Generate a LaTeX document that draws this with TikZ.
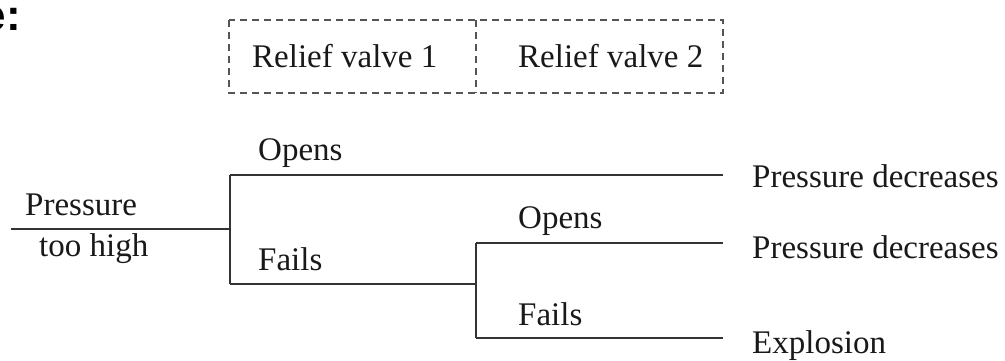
\documentclass[tikz,border=0pt]{standalone}
\usepackage{fontspec}
\setmainfont{Liberation Serif}
\setsansfont{Liberation Sans}
\usepackage{tikz}
\usetikzlibrary{positioning}
\definecolor{lineGray}{HTML}{333333}
\definecolor{dashGray}{HTML}{555555}

\begin{document}
\begin{tikzpicture}[
  x=1pt,y=-1pt,
  font=\fontsize{33}{40}\selectfont,
  lbl/.style={anchor=base west,inner sep=0pt,text=black!90},
  branch/.style={draw=lineGray,line width=1.5pt},
  dashbox/.style={draw=dashGray,line width=1.5pt,dash pattern=on 7pt off 5pt},
  head/.style={font=\sffamily\bfseries\fontsize{44}{50}\selectfont,anchor=base east,inner sep=0pt}]
  \useasboundingbox (0,0) rectangle (1005,360);
  \node[head] (title) at (21,30) {e:};
  % relief valve header
  \coordinate (boxNW) at (229,20);
  \coordinate (boxSE) at (723,93);
  \coordinate (midN) at (476,20);
  \coordinate (midS) at (476,93);
  \draw[dashbox] (boxNW) rectangle (boxSE);
  \draw[dashbox] (midN) -- (midS);
  \node[lbl] (rv1) at (252,67) {Relief valve 1};
  \node[lbl] (rv2) at (518,67) {Relief valve 2};
  % event tree junctions
  \coordinate (src) at (11,229);
  \coordinate (j1) at (230,229);
  \coordinate (j1u) at (230,175);
  \coordinate (j1d) at (230,284);
  \coordinate (j2) at (476,284);
  \coordinate (j2u) at (476,243);
  \coordinate (j2d) at (476,338);
  \coordinate (e1) at (723,175);
  \coordinate (e2) at (723,243);
  \coordinate (e3) at (723,338);
  \draw[branch] (src) -- (j1);
  \draw[branch] (j1u) -- (j1d);
  \draw[branch] (j1u) -- (e1);
  \draw[branch] (j1d) -- (j2);
  \draw[branch] (j2u) -- (j2d);
  \draw[branch] (j2u) -- (e2);
  \draw[branch] (j2d) -- (e3);
  % labels
  \node[lbl] (init1) at (25,215) {Pressure};
  \node[lbl] (init2) at (39,256) {too high};
  \node[lbl] (open1) at (258,160) {Opens};
  \node[lbl] (fail1) at (258,270) {Fails};
  \node[lbl] (open2) at (518,228) {Opens};
  \node[lbl] (fail2) at (518,325) {Fails};
  \node[lbl] (out1) at (752,187) {Pressure decreases};
  \node[lbl] (out2) at (752,258) {Pressure decreases};
  \node[lbl] (out3) at (752,353) {Explosion};
\end{tikzpicture}
\end{document}
